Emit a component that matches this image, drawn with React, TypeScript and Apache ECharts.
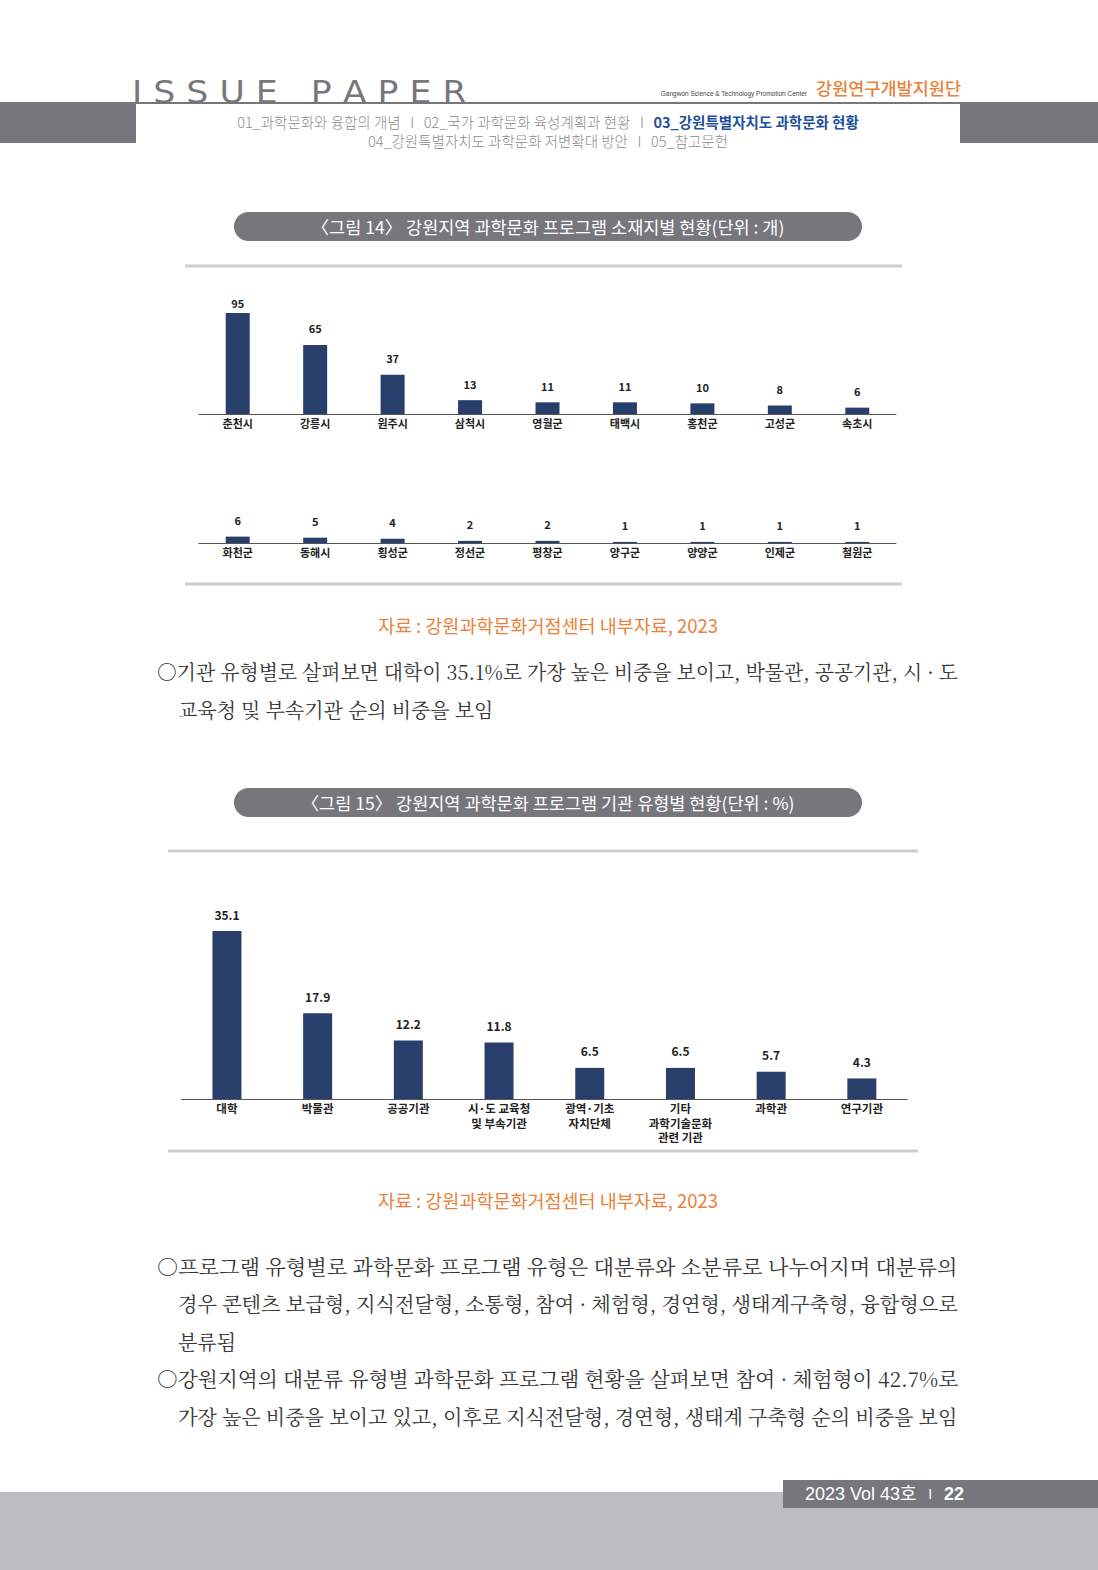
import React, { useEffect, useRef } from "react";
import * as echarts from "echarts";

// ---- data ----
const regionsTop = ["춘천시", "강릉시", "원주시", "삼척시", "영월군", "태백시", "홍천군", "고성군", "속초시"];
const countsTop = [95, 65, 37, 13, 11, 11, 10, 8, 6];
const regionsBottom = ["화천군", "동해시", "횡성군", "정선군", "평창군", "양구군", "양양군", "인제군", "철원군"];
const countsBottom = [6, 5, 4, 2, 2, 1, 1, 1, 1];
const orgTypes = ["대학", "박물관", "공공기관", "시·도 교육청\n및 부속기관", "광역·기초\n자치단체", "기타\n과학기술문화\n관련 기관", "과학관", "연구기관"];
const orgShares = [35.1, 17.9, 12.2, 11.8, 6.5, 6.5, 5.7, 4.3];

const title14 = "〈그림 14〉 강원지역 과학문화 프로그램 소재지별 현황(단위 : 개)";
const title15 = "〈그림 15〉 강원지역 과학문화 프로그램 기관 유형별 현황(단위 : %)";
const sourceText = "자료 : 강원과학문화거점센터 내부자료, 2023";
const para1 = [
  "○기관 유형별로 살펴보면 대학이 35.1%로 가장 높은 비중을 보이고, 박물관, 공공기관, 시 · 도",
  "교육청 및 부속기관 순의 비중을 보임",
];
const para2 = [
  "○프로그램 유형별로 과학문화 프로그램 유형은 대분류와 소분류로 나누어지며 대분류의",
  "경우 콘텐츠 보급형, 지식전달형, 소통형, 참여 · 체험형, 경연형, 생태계구축형, 융합형으로",
  "분류됨",
  "○강원지역의 대분류 유형별 과학문화 프로그램 현황을 살펴보면 참여 · 체험형이 42.7%로",
  "가장 높은 비중을 보이고 있고, 이후로 지식전달형, 경연형, 생태계 구축형 순의 비중을 보임",
];
const navLine1a = "01_과학문화와 융합의 개념   I   02_국가 과학문화 육성계획과 현황   I   ";
const navLine1b = "03_강원특별자치도 과학문화 현황";
const navLine2 = "04_강원특별자치도 과학문화 저변확대 방안   I   05_참고문헌";

const KR = "'Noto Sans CJK KR', sans-serif";
const SERIF = "'Noto Serif CJK KR', 'Noto Sans CJK KR', serif";
const NARROW = "'Liberation Sans Narrow', 'Noto Sans CJK KR', sans-serif";
const NAVY = "#283f6b";
const GRAY = "#77777b";
const ORANGE = "#e8813a";

export default function App() {
  const ref = useRef<HTMLDivElement>(null);
  useEffect(() => {
    if (!ref.current) return;
    const chart = echarts.init(ref.current, undefined, { renderer: "svg" });

    const paraFont = `20px ${SERIF}`;
    const ctx = document.createElement("canvas").getContext("2d");
    if (ctx) ctx.font = paraFont;
    const measure = (t: string) => (ctx ? ctx.measureText(t).width : 0);

    const paraLines: any[] = [];
    const RIGHT = 958;
    const addLine = (t: string, y: number, justify: boolean) => {
      const x = t.startsWith("○") ? 157 : 178;
      let sx = 1;
      if (justify) {
        const w = measure(t);
        if (w > 0) sx = Math.min(1.1, Math.max(0.92, (RIGHT - x) / w));
      }
      paraLines.push({
        type: "text",
        x,
        y,
        scaleX: sx,
        style: { text: t, font: paraFont, fill: "#333", textAlign: "left", textVerticalAlign: "middle" },
      });
    };
    para1.forEach((t, i) => addLine(t, 671 + i * 38.5, i === 0));
    const p2y = [1266, 1304, 1341, 1379, 1417];
    para2.forEach((t, i) => addLine(t, p2y[i], i !== 2));

    const pill = (y: number, text: string) => [
      { type: "rect", shape: { x: 234, y, width: 628, height: 29, r: 14.5 }, style: { fill: GRAY } },
      {
        type: "text",
        x: 548,
        y: y + 14.5,
        style: { text, font: `17.5px ${KR}`, fill: "#fff", textAlign: "center", textVerticalAlign: "middle" },
      },
    ];
    const hline = (x1: number, x2: number, y: number) => ({
      type: "line",
      shape: { x1, y1: y, x2, y2: y },
      style: { stroke: "#cdcdcd", lineWidth: 3 },
    });

    const graphics: any[] = [
      // header
      {
        type: "text",
        x: 132,
        y: 92,
        scaleX: 1.085,
        style: { text: "I S S U E   P A P E R", font: `32px 'DejaVu Sans', sans-serif`, fill: GRAY, textAlign: "left", textVerticalAlign: "middle" },
      },
      {
        type: "text",
        x: 807,
        y: 93,
        style: { text: "Gangwon Science & Technology Promotion Center", font: `6.5px 'Liberation Sans', sans-serif`, fill: "#444", textAlign: "right", textVerticalAlign: "middle" },
      },
      {
        type: "text",
        x: 961,
        y: 87,
        style: { text: "강원연구개발지원단", font: `500 17.5px ${KR}`, fill: ORANGE, textAlign: "right", textVerticalAlign: "middle" },
      },
      { type: "rect", shape: { x: 0, y: 102, width: 136, height: 41 }, style: { fill: GRAY } },
      { type: "rect", shape: { x: 960, y: 102, width: 138, height: 41 }, style: { fill: GRAY } },
      { type: "rect", shape: { x: 136, y: 102, width: 824, height: 2 }, style: { fill: GRAY } },
      {
        type: "text",
        x: 548,
        y: 121,
        style: {
          text: `{a|${navLine1a}}{b|${navLine1b}}`,
          textAlign: "center",
          textVerticalAlign: "middle",
          rich: {
            a: { font: `300 14.5px ${KR}`, fill: "#8c8c8c" },
            b: { font: `bold 14.5px ${KR}`, fill: "#1f4f9e" },
          },
        },
      },
      {
        type: "text",
        x: 548,
        y: 140,
        style: { text: navLine2, font: `300 14.5px ${KR}`, fill: "#8c8c8c", textAlign: "center", textVerticalAlign: "middle" },
      },
      // figure 14
      ...pill(212, title14),
      hline(185, 902, 266),
      hline(185, 902, 584),
      {
        type: "text",
        x: 548,
        y: 625,
        style: { text: sourceText, font: `18.5px ${KR}`, fill: ORANGE, textAlign: "center", textVerticalAlign: "middle" },
      },
      // figure 15
      ...pill(788, title15),
      hline(168, 918, 851),
      hline(168, 918, 1151),
      {
        type: "text",
        x: 548,
        y: 1200,
        style: { text: sourceText, font: `18.5px ${KR}`, fill: ORANGE, textAlign: "center", textVerticalAlign: "middle" },
      },
      ...paraLines,
      // footer
      { type: "rect", shape: { x: 0, y: 1492, width: 1098, height: 78 }, style: { fill: "#bdbdc1" } },
      { type: "rect", shape: { x: 783, y: 1480, width: 315, height: 28 }, style: { fill: GRAY } },
      {
        type: "text",
        x: 805,
        y: 1494,
        style: {
          text: "{a|2023 Vol 43호}{s|   I   }{b|22}",
          textAlign: "left",
          textVerticalAlign: "middle",
          rich: {
            a: { font: `18px 'Liberation Sans', ${KR}`, fill: "#fff" },
            s: { font: `14px 'Liberation Sans', sans-serif`, fill: "#fff" },
            b: { font: `bold 18px 'Liberation Sans', sans-serif`, fill: "#fff" },
          },
        },
      },
    ];

    const catAxis = (gridIndex: number, data: string[], fontSize: number) => ({
      type: "category",
      gridIndex,
      data,
      axisLine: { lineStyle: { color: "#555", width: 1.2 } },
      axisTick: { show: false },
      axisLabel: {
        margin: 2,
        interval: 0,
        fontSize,
        fontWeight: "bold",
        fontFamily: NARROW,
        color: "#222",
        lineHeight: fontSize + 3,
      },
    });
    const valAxis = (gridIndex: number, max: number) => ({
      type: "value",
      gridIndex,
      min: 0,
      max,
      show: false,
      splitLine: { show: false },
    });
    const barSeries = (
      idx: number,
      data: any[],
      width: number,
      labelDist: number,
      fontSize: number,
      fmt?: (p: any) => string
    ) => ({
      type: "bar",
      xAxisIndex: idx,
      yAxisIndex: idx,
      data,
      barWidth: width,
      itemStyle: { color: NAVY },
      label: {
        show: true,
        position: "top",
        distance: labelDist,
        fontSize,
        fontWeight: "bold",
        fontFamily: NARROW,
        color: "#222",
        formatter: fmt || "{c}",
      },
    });

    // the tallest bar's label sits closer to the bar (clamped at plot top in the original)
    const topMax = Math.max(...countsTop);
    const topData = countsTop.map((v) => (v === topMax ? { value: v, label: { distance: 5 } } : v));

    chart.setOption({
      animation: false,
      backgroundColor: "#ffffff",
      grid: [
        { left: 199, top: 307.7, width: 697, height: 106.3 },
        { left: 199, top: 436.7, width: 697, height: 106.3 },
        { left: 181.6, top: 907.6, width: 725.6, height: 191.4 },
      ],
      xAxis: [catAxis(0, regionsTop, 11), catAxis(1, regionsBottom, 11), catAxis(2, orgTypes, 11.5)],
      yAxis: [valAxis(0, 100), valAxis(1, 100), valAxis(2, 40)],
      series: [
        barSeries(0, topData, 24, 11, 11),
        barSeries(1, countsBottom, 24, 11, 11),
        barSeries(2, orgShares, 29, 11, 12, (p: any) => Number(p.value).toFixed(1)),
      ],
      graphic: graphics,
    });
    return () => chart.dispose();
  }, []);
  return <div ref={ref} style={{ position: "absolute", left: 0, top: 0, width: 1098, height: 1570 }} />;
}
